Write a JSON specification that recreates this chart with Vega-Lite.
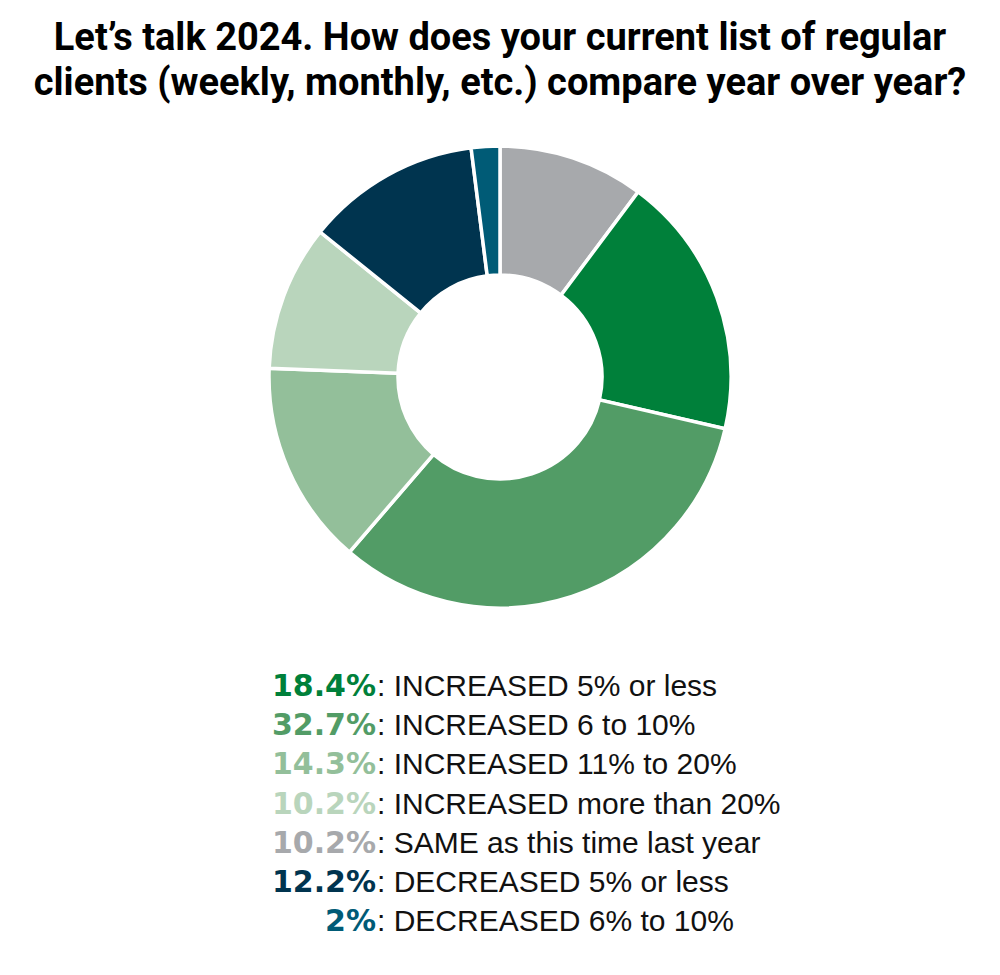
{
  "$schema": "https://vega.github.io/schema/vega-lite/v6.json",
  "padding": {"top": 20, "left": 0, "right": 0, "bottom": 0},
  "background": "white",
  "title": {
    "text": ["Let’s talk 2024. How does your current list of regular", "clients (weekly, monthly, etc.) compare year over year?"],
    "font": "Roboto",
    "fontWeight": "bold",
    "fontSize": 38,
    "lineHeight": 45,
    "color": "#000000",
    "anchor": "middle",
    "offset": 9
  },
  "config": {"view": {"stroke": null}},
  "data": {
    "values": [
      {"category": "SAME", "value": 10.2, "arcOrder": 1, "legendOrder": 5, "pct": "10.2%", "label": ": SAME as this time last year"},
      {"category": "INC5", "value": 18.4, "arcOrder": 2, "legendOrder": 1, "pct": "18.4%", "label": ": INCREASED 5% or less"},
      {"category": "INC10", "value": 32.7, "arcOrder": 3, "legendOrder": 2, "pct": "32.7%", "label": ": INCREASED 6 to 10%"},
      {"category": "INC20", "value": 14.3, "arcOrder": 4, "legendOrder": 3, "pct": "14.3%", "label": ": INCREASED 11% to 20%"},
      {"category": "INCMORE", "value": 10.2, "arcOrder": 5, "legendOrder": 4, "pct": "10.2%", "label": ": INCREASED more than 20%"},
      {"category": "DEC5", "value": 12.2, "arcOrder": 6, "legendOrder": 6, "pct": "12.2%", "label": ": DECREASED 5% or less"},
      {"category": "DEC10", "value": 2, "arcOrder": 7, "legendOrder": 7, "pct": "2%", "label": ": DECREASED 6% to 10%"}
    ]
  },
  "spacing": 25,
  "vconcat": [
    {
      "width": 1000,
      "height": 530,
      "mark": {"type": "arc", "radius": 231, "radius2": 102, "stroke": "white", "strokeWidth": 3.5},
      "encoding": {
        "theta": {"field": "value", "type": "quantitative", "stack": true},
        "order": {"field": "arcOrder", "type": "quantitative"},
        "color": {
          "field": "category", "type": "nominal", "legend": null,
          "scale": {
            "domain": ["SAME", "INC5", "INC10", "INC20", "INCMORE", "DEC5", "DEC10"],
            "range": ["#A7A9AC", "#00803A", "#529C66", "#93BF9A", "#B9D5BC", "#00344F", "#005B76"]
          }
        }
      }
    },
    {
      "width": 1000,
      "height": 275,
      "encoding": {
        "y": {"field": "legendOrder", "type": "ordinal", "axis": null, "scale": {"paddingInner": 0, "paddingOuter": 0}}
      },
      "layer": [
        {
          "mark": {"type": "text", "align": "right", "baseline": "middle", "font": "DejaVu Sans", "fontWeight": "bold", "fontSize": 30},
          "encoding": {
            "x": {"datum": 376, "type": "quantitative", "scale": {"domain": [0, 1000], "range": [0, 1000]}, "axis": null},
            "text": {"field": "pct"},
            "color": {"field": "category", "type": "nominal", "legend": null}
          }
        },
        {
          "mark": {"type": "text", "align": "left", "baseline": "middle", "font": "Liberation Sans", "fontSize": 30, "color": "#111111"},
          "encoding": {
            "x": {"datum": 377, "type": "quantitative", "scale": {"domain": [0, 1000], "range": [0, 1000]}, "axis": null},
            "text": {"field": "label"}
          }
        }
      ]
    }
  ]
}
